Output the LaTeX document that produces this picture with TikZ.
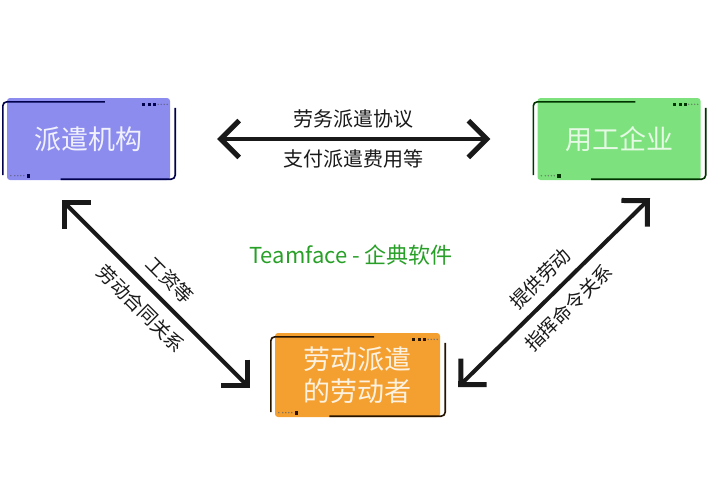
\documentclass[tikz,border=0pt]{standalone}
\usepackage{fontspec}
\newfontfamily\cjk{Noto Sans CJK SC}
\usetikzlibrary{positioning}
\usetikzlibrary{calc}
\usetikzlibrary{arrows.meta}
\definecolor{agencyblue}{RGB}{140,140,238}
\definecolor{employergreen}{RGB}{125,226,125}
\definecolor{workerorange}{RGB}{244,160,48}
\definecolor{markgreen}{RGB}{40,160,40}
\tikzset{
    % Heavy open head with a right angle at the tip
    >={Straight Barb[angle=90:26pt, line width=1pt 1]},
%
    % Coloured box for each party
    party box/.style={
        rounded corners=3pt, inner sep=0, align=center,
        minimum width=163pt, minimum height=82pt,
        font=\cjk\fontsize{27}{32}\selectfont},
%
    % Dark bracket lines round the boxes
    corner frame/.style={line width=1.6pt, rounded corners=4pt},
    % Thick two headed relation arrow
    relation/.style={<->, line width=4pt, black!90},
    % Text set along the arrows
    relation label/.style={font=\cjk\fontsize{19}{22}\selectfont, inner sep=0}}

\begin{document}
\begin{tikzpicture}[x=1pt, y=-1pt]
\useasboundingbox (0,0) rectangle (710,480);

% The three parties
\node[party box, fill=agencyblue, text=agencyblue!12] (agency) at (88.5,139) {派遣机构};
\node[party box, fill=employergreen, text=employergreen!20] (employer) at (619,139) {用工企业};
\node[party box, fill=workerorange, text=workerorange!15,
    minimum width=165pt, minimum height=84pt] (worker) at (357.5,375) {劳动派遣\\的劳动者};

% Brackets and dots on every box
\foreach \party/\ink in {agency/{black!70!blue}, employer/{black!80!green}, worker/{black!85!orange}} {
    \draw[corner frame, draw=\ink]
        ($(\party.south west)+(-4,-5)$) |- ($(\party.north west)!0.6!(\party.north east)+(0,4)$);
    \draw[corner frame, draw=\ink]
        ($(\party.south west)!0.33!(\party.south east)+(0,-1)$) -| ($(\party.north east)+(5,10)$);
    \foreach \dx in {0,6,11}
        \fill[\ink] ($(\party.north east)+(-28+\dx,5.5)$) rectangle ++(3,3);
    \foreach \dx in {16,19,22,25}
        \fill[\ink!60] ($(\party.north east)+(-28+\dx,6.5)$) circle (0.8);
    \fill[\ink] ($(\party.south west)+(20,-6)$) rectangle ++(3.5,3.5);
    \foreach \dx in {4,8,11,14,17}
        \fill[\ink!60] ($(\party.south west)+(\dx,-4.5)$) circle (0.8);
}

% Contract between agency and employer
\draw[relation] ([xshift=47pt]agency.east) -- ([xshift=-47pt]employer.west)
    node[midway, above=9pt, relation label, font=\cjk\fontsize{20}{24}\selectfont] (agreement label) {劳务派遣协议}
    node[midway, below=9pt, relation label, font=\cjk\fontsize{20}{24}\selectfont] (fee label) {支付派遣费用等};

% Agency and worker
\coordinate (agency tip) at ($(agency.south)+(-26.5,20)$);
\coordinate (worker left tip) at ($(worker.west)+(-25,13)$);
\draw[relation] (agency tip) -- (worker left tip)
    node[midway, sloped, above=9pt, relation label] (wage label) {工资等}
    node[midway, sloped, below=10pt, relation label] (contract label) {劳动合同关系};

% Worker and employer
\coordinate (worker right tip) at ($(worker.east)+(18,12)$);
\coordinate (employer tip) at ($(employer.south)+(31,18)$);
\draw[relation] (worker right tip) -- (employer tip)
    node[midway, sloped, above=9pt, relation label] (labour label) {提供劳动}
    node[midway, sloped, below=10pt, relation label] (command label) {指挥命令关系};

% Watermark
\node[text=markgreen, font=\cjk\fontsize{22}{26}\selectfont] (watermark) at (351,255) {Teamface - 企典软件};

\end{tikzpicture}
\end{document}
